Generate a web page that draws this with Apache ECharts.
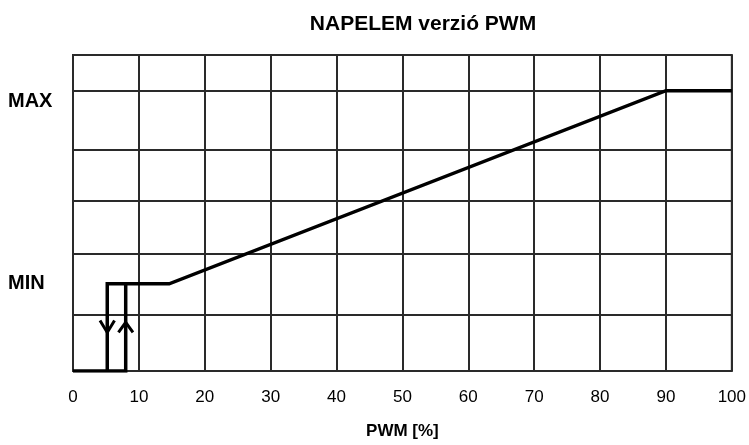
<!DOCTYPE html>
<html><head><meta charset="utf-8">
<script src="https://cdn.jsdelivr.net/npm/echarts@6/dist/echarts.min.js"></script>
<style>html,body{margin:0;padding:0;background:#fff}#c{width:749px;height:445px}</style>
</head><body><div id="c"></div>
<script>
const titleText = 'NAPELEM verzió PWM';
const xName = 'PWM [%]';
const yLevelNames = ['MIN', 'MAX'];
const yLabelValues = [27.6, 85.2];
const gridLevels = [17.9, 37.0, 53.9, 69.9, 88.7];
// main curve (PWM %, output level)
const curveX = [0, 8, 8, 14.6, 90, 100];
const curveY = [0, 0, 27.6, 27.6, 88.7, 88.7];
// lower hysteresis branch
const branchX = [5.2, 5.2, 8];
const branchY = [0, 27.6, 27.6];
// arrow chevrons
const downArrowX = [4.1, 5.2, 6.3];
const downArrowY = [16.0, 12.2, 16.0];
const upArrowX = [6.9, 8.0, 9.1];
const upArrowY = [12.2, 15.4, 12.2];

const FONT = "'Liberation Sans',Arial,sans-serif";
const zip = (a, b) => a.map((v, i) => [v, b[i]]);
const lineSeries = (data, w) => ({
  type: 'line', data, symbol: 'none', animation: false,
  lineStyle: { color: '#000', width: w, join: 'miter' }, z: 5
});

const chart = echarts.init(document.getElementById('c'), null, { renderer: 'canvas' });
chart.setOption({
  animation: false,
  title: {
    text: titleText, left: 418, top: 9, textAlign: 'center',
    textStyle: { fontFamily: FONT, fontSize: 21, fontWeight: 'bold', color: '#000' }
  },
  grid: { left: 73, right: 14, top: 55, bottom: 71, show: true, borderColor: '#2a2a2a', borderWidth: 2 },
  xAxis: {
    type: 'value', min: 0, max: 100, interval: 10,
    name: xName, nameLocation: 'middle', nameGap: 52,
    nameTextStyle: { fontFamily: FONT, fontSize: 17, fontWeight: 'bold', color: '#000' },
    axisLine: { show: false }, axisTick: { show: false },
    axisLabel: { margin: 18, fontFamily: FONT, fontSize: 17, color: '#000' },
    splitLine: { show: true, lineStyle: { color: '#2a2a2a', width: 2 } }
  },
  yAxis: {
    type: 'value', min: 0, max: 100,
    axisLine: { show: false }, axisTick: { show: false },
    splitLine: { show: false },
    axisLabel: {
      customValues: yLabelValues,
      formatter: v => { const i = yLabelValues.indexOf(v); return i >= 0 ? yLevelNames[i] : ''; },
      align: 'left', margin: 65,
      fontFamily: FONT, fontSize: 20, fontWeight: 'bold', color: '#000'
    }
  },
  series: [
    {
      type: 'line', data: [], symbol: 'none', silent: true,
      markLine: {
        silent: true, symbol: 'none', label: { show: false },
        lineStyle: { color: '#2a2a2a', width: 2, type: 'solid' },
        data: gridLevels.map(v => ({ yAxis: v }))
      }
    },
    lineSeries(zip(curveX, curveY), 3.5),
    lineSeries(zip(branchX, branchY), 3.5),
    lineSeries(zip(downArrowX, downArrowY), 3),
    lineSeries(zip(upArrowX, upArrowY), 3)
  ]
});
</script></body></html>
